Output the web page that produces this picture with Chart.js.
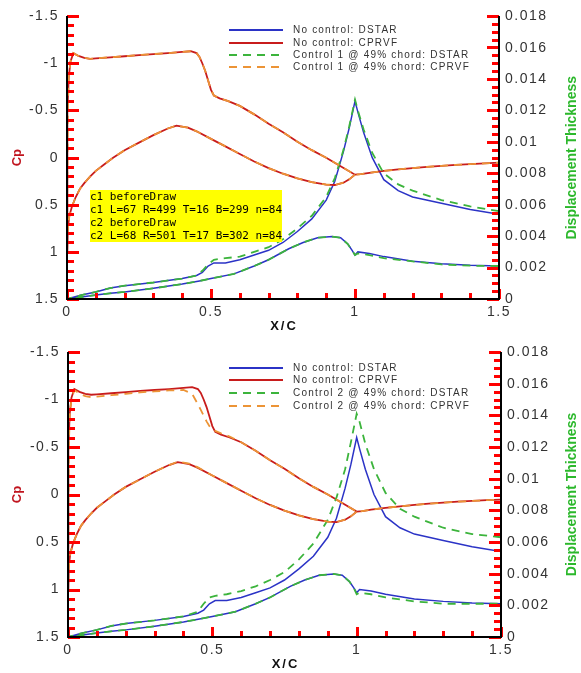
<!DOCTYPE html>
<html><head><meta charset="utf-8">
<script src="https://cdn.jsdelivr.net/npm/chart.js@4.4.1/dist/chart.umd.min.js"></script>
<style>
html,body{margin:0;padding:0;background:#fff;}
#wrap{position:relative;width:581px;height:673px;overflow:hidden;background:#fff;}
#wrap canvas{position:absolute;left:0;}
.lg{position:absolute;left:0;top:0;width:0;height:0;font-family:"Liberation Sans",Arial,sans-serif;font-size:10px;letter-spacing:1.2px;color:#333;}
.lg .row{position:absolute;left:0;height:12px;line-height:12px;white-space:nowrap;}
.lg svg{position:absolute;top:0;}
.lg span{position:absolute;}
#dbg{position:absolute;left:90px;top:190px;font:11px monospace;background:#ff0;white-space:pre;z-index:9}
</style></head>
<body>
<div id="wrap">
  <canvas id="c1" width="581" height="335" style="top:0"></canvas>
  <canvas id="c2" width="581" height="338" style="top:335px"></canvas>
  <div class="lg" id="lg1"></div>
  <div class="lg" id="lg2"></div>
  <div id="dbg"></div>
</div>
<script>
const LOG = [];
// ---------------- DATA ----------------
const xTickValues = [0, 0.5, 1, 1.5];
const xTickLabels = ['0', '0.5', '1', '1.5'];
const cpTickValues = [-1.5, -1, -0.5, 0, 0.5, 1, 1.5];
const cpTickLabels = ['-1.5', '-1', '-0.5', '0', '0.5', '1', '1.5'];
const dsTickValues = [0, 0.002, 0.004, 0.006, 0.008, 0.01, 0.012, 0.014, 0.016, 0.018];
const dsTickLabels = ['0', '0.002', '0.004', '0.006', '0.008', '0.01', '0.012', '0.014', '0.016', '0.018'];

const cpUpperX = [0, 0.001, 0.003, 0.006, 0.012, 0.022, 0.04, 0.06, 0.08, 0.1, 0.15, 0.2, 0.25, 0.3, 0.35, 0.4, 0.43, 0.45, 0.46, 0.47, 0.48, 0.49, 0.5, 0.51, 0.53, 0.56, 0.6, 0.65, 0.7, 0.75, 0.8, 0.85, 0.9, 0.95, 1.0];
const cpUpperNoCtrl = [1.0, 0.3, -0.5, -0.85, -1.02, -1.11, -1.08, -1.06, -1.05, -1.055, -1.066, -1.077, -1.09, -1.1, -1.11, -1.123, -1.13, -1.11, -1.07, -1.0, -0.92, -0.82, -0.72, -0.66, -0.63, -0.6, -0.55, -0.46, -0.36, -0.27, -0.17, -0.08, 0.0, 0.09, 0.18];
const cpUpperCtrl1 = [1.0, 0.3, -0.5, -0.85, -1.02, -1.11, -1.08, -1.06, -1.05, -1.055, -1.066, -1.077, -1.09, -1.1, -1.11, -1.123, -1.13, -1.11, -1.07, -1.0, -0.92, -0.82, -0.72, -0.66, -0.63, -0.6, -0.55, -0.46, -0.36, -0.27, -0.17, -0.08, 0.0, 0.09, 0.18];
const cpUpperCtrl2 = [1.0, 0.3, -0.5, -0.85, -1.0, -1.1, -1.06, -1.035, -1.025, -1.03, -1.045, -1.06, -1.075, -1.085, -1.095, -1.1, -1.06, -0.95, -0.89, -0.83, -0.77, -0.72, -0.69, -0.67, -0.645, -0.61, -0.55, -0.46, -0.36, -0.27, -0.17, -0.08, 0.0, 0.09, 0.18];

const cpLowerX = [0, 0.003, 0.008, 0.017, 0.03, 0.045, 0.06, 0.08, 0.1, 0.13, 0.16, 0.2, 0.25, 0.3, 0.35, 0.38, 0.42, 0.45, 0.5, 0.55, 0.6, 0.65, 0.7, 0.75, 0.8, 0.85, 0.9, 0.93, 0.96, 0.98, 1.0];
const cpLowerNoCtrl = [1.0, 0.75, 0.62, 0.52, 0.42, 0.33, 0.27, 0.2, 0.14, 0.07, 0.0, -0.08, -0.16, -0.24, -0.31, -0.34, -0.32, -0.28, -0.2, -0.12, -0.04, 0.04, 0.11, 0.17, 0.22, 0.26, 0.285, 0.29, 0.265, 0.23, 0.18];
const cpLowerCtrl1 = [1.0, 0.75, 0.62, 0.52, 0.42, 0.33, 0.27, 0.2, 0.14, 0.07, 0.0, -0.08, -0.16, -0.24, -0.31, -0.34, -0.32, -0.28, -0.2, -0.12, -0.04, 0.04, 0.11, 0.17, 0.22, 0.26, 0.285, 0.29, 0.265, 0.23, 0.18];
const cpLowerCtrl2 = [1.0, 0.75, 0.62, 0.52, 0.42, 0.33, 0.27, 0.2, 0.14, 0.07, 0.0, -0.08, -0.16, -0.24, -0.31, -0.345, -0.325, -0.285, -0.2, -0.12, -0.04, 0.04, 0.11, 0.17, 0.22, 0.26, 0.285, 0.29, 0.265, 0.23, 0.18];

const cpWakeX = [1.0, 1.02, 1.05, 1.1, 1.15, 1.2, 1.25, 1.3, 1.35, 1.4, 1.45, 1.5];
const cpWakeNoCtrl = [0.18, 0.175, 0.16, 0.14, 0.125, 0.11, 0.097, 0.086, 0.076, 0.068, 0.06, 0.053];
const cpWakeCtrl1 = [0.18, 0.175, 0.16, 0.14, 0.125, 0.11, 0.097, 0.086, 0.076, 0.068, 0.06, 0.053];
const cpWakeCtrl2 = [0.18, 0.175, 0.16, 0.14, 0.125, 0.11, 0.097, 0.086, 0.076, 0.068, 0.06, 0.053];

const dsUpperX = [0, 0.05, 0.1, 0.15, 0.2, 0.3, 0.4, 0.45, 0.47, 0.49, 0.51, 0.55, 0.6, 0.65, 0.7, 0.75, 0.8, 0.85, 0.9, 0.93, 0.96, 0.98, 1.0, 1.01, 1.03, 1.06, 1.1, 1.15, 1.2, 1.3, 1.4, 1.5];
const dsUpperNoCtrl = [0, 0.00025, 0.00045, 0.0007, 0.00085, 0.00105, 0.0013, 0.0015, 0.0017, 0.0021, 0.0023, 0.0023, 0.0025, 0.0028, 0.0031, 0.0036, 0.0043, 0.0051, 0.0063, 0.0075, 0.0094, 0.0109, 0.0126, 0.0119, 0.0106, 0.009, 0.0076, 0.0069, 0.0065, 0.0061, 0.0057, 0.0054];
const dsUpperCtrl1 = [0, 0.00025, 0.00045, 0.0007, 0.00085, 0.00105, 0.0013, 0.0015, 0.0018, 0.0022, 0.0025, 0.0026, 0.0027, 0.003, 0.0033, 0.0038, 0.0045, 0.0053, 0.0065, 0.0077, 0.0095, 0.011, 0.0127, 0.012, 0.0108, 0.0093, 0.008, 0.0073, 0.0069, 0.0063, 0.0059, 0.0056];
const dsUpperCtrl2 = [0, 0.00025, 0.00045, 0.0007, 0.00085, 0.00105, 0.0013, 0.0016, 0.0021, 0.0025, 0.0026, 0.0027, 0.0029, 0.0032, 0.0036, 0.0041, 0.0049, 0.0059, 0.0074, 0.0088, 0.0106, 0.0123, 0.0141, 0.0136, 0.0122, 0.0106, 0.0091, 0.0081, 0.0076, 0.0069, 0.0065, 0.0063];

const dsLowerX = [0, 0.05, 0.1, 0.15, 0.2, 0.3, 0.4, 0.46, 0.5, 0.58, 0.65, 0.7, 0.77, 0.82, 0.87, 0.92, 0.95, 0.975, 0.99, 1.0, 1.01, 1.05, 1.1, 1.2, 1.3, 1.4, 1.5];
const dsLowerNoCtrl = [0, 0.00012, 0.00025, 0.00036, 0.00045, 0.00068, 0.00095, 0.00115, 0.0013, 0.0016, 0.0021, 0.0025, 0.0032, 0.0036, 0.0039, 0.00398, 0.0039, 0.0035, 0.0031, 0.0028, 0.003, 0.0029, 0.0027, 0.0024, 0.00225, 0.00215, 0.0021];
const dsLowerCtrl1 = [0, 0.00012, 0.00025, 0.00036, 0.00045, 0.00068, 0.00095, 0.00115, 0.0013, 0.0016, 0.0021, 0.0025, 0.0032, 0.0036, 0.0039, 0.00398, 0.0039, 0.0035, 0.0031, 0.0028, 0.0029, 0.0028, 0.0026, 0.0024, 0.0022, 0.00212, 0.0021];
const dsLowerCtrl2 = [0, 0.00012, 0.00025, 0.00036, 0.00045, 0.00068, 0.00095, 0.00115, 0.0013, 0.0016, 0.0021, 0.0025, 0.0032, 0.0036, 0.0039, 0.00398, 0.0039, 0.0035, 0.0031, 0.0027, 0.0028, 0.0027, 0.0025, 0.00225, 0.0021, 0.0021, 0.0021];

const panel1Labels = ['No control: DSTAR', 'No control: CPRVF', 'Control 1 @ 49% chord: DSTAR', 'Control 1 @ 49% chord: CPRVF'];
const panel2Labels = ['No control: DSTAR', 'No control: CPRVF', 'Control 2 @ 49% chord: DSTAR', 'Control 2 @ 49% chord: CPRVF'];

// ---------------- BUILD ----------------
const BLUE = '#2b33c6', RED = '#c81c1c', GREEN = '#3cb43c', ORANGE = '#ec9436';
const FONT = '"Liberation Sans", Arial, sans-serif';

function pts(xs, ys) { return xs.map((x, i) => ({ x: x, y: ys[i] })); }
function cpPath(lowerY, upperY, wakeY) {
  return pts(cpLowerX, lowerY).reverse().concat(pts(cpUpperX, upperY).slice(1), pts(cpWakeX, wakeY).slice(1));
}
function dsPath(upperY, lowerY) {
  return pts(dsUpperX, upperY).reverse().concat(pts(dsLowerX, lowerY).slice(1));
}
function labelFor(v, vals, labs) {
  for (let i = 0; i < vals.length; i++) if (Math.abs(vals[i] - v) < 1e-9) return labs[i];
  return '';
}

function drawTicks(chart) {
  const ctx = chart.ctx;
  const ca = chart.chartArea;
  const L = Math.round(ca.left), R = Math.round(ca.right), B = Math.round(ca.bottom), Tp = Math.round(ca.top);
  const H = B - Tp, W = R - L;
  ctx.save();
  ctx.setLineDash([]);
  ctx.fillStyle = '#ff0000';
  let n = 0;
  for (let k = 0; k <= 30; k++) {
    const y = Math.round(Tp + H * k / 30);
    const len = (k % 5 === 0) ? 12 : 7;
    ctx.fillRect(L, y - 1, len, 3); n++;
  }
  for (let k = 0; k <= 36; k++) {
    const y = Math.round(B - H * k / 36);
    const len = (k % 4 === 0) ? 12 : 7;
    ctx.fillRect(R - len, y - 1, len, 3); n++;
  }
  for (let k = 0; k <= 15; k++) {
    const x = Math.round(L + W * k / 15);
    const len = (k % 5 === 0) ? 10 : 6;
    ctx.fillRect(x - 1, B - len, 3, len); n++;
  }
  ctx.fillStyle = '#000';
  ctx.fillRect(L - 1, Tp, 2, H + 1);
  ctx.fillRect(R - 1, Tp, 2, H + 1);
  ctx.fillRect(L - 1, B - 1, W + 2, 2);
  ctx.restore();
  LOG.push(chart.canvas.id + ' L=' + L + ' R=' + R + ' T=' + Tp + ' B=' + B + ' n=' + n);
}

const axesPlugin = {
  id: 'axesPlugin',
  beforeDraw(chart) { chart.ctx.letterSpacing = '1.5px'; LOG.push(chart.canvas.id + ' beforeDraw'); },
  afterDraw(chart) {
    const ctx = chart.ctx;
    try { drawTicks(chart); } catch (e) { LOG.push('ERR ' + e); }
    const ca = chart.chartArea;
    ctx.save();
    ctx.letterSpacing = '0px';
    const cy = (ca.top + ca.bottom) / 2;
    ctx.textAlign = 'center'; ctx.textBaseline = 'middle';
    ctx.save();
    ctx.translate(17, cy); ctx.rotate(-Math.PI / 2);
    ctx.fillStyle = '#c0141e'; ctx.font = 'bold 13px ' + FONT;
    ctx.fillText('Cp', 0, 0);
    ctx.restore();
    ctx.save();
    ctx.translate(572, cy); ctx.rotate(-Math.PI / 2);
    ctx.fillStyle = '#2cb82c'; ctx.font = 'bold 14px ' + FONT;
    ctx.fillText('Displacement Thickness', 0, 0);
    ctx.restore();
    ctx.letterSpacing = '2px';
    ctx.fillStyle = '#111'; ctx.font = 'bold 13px ' + FONT;
    ctx.fillText('X/C', (ca.left + ca.right) / 2 + 1, ca.bottom + 27);
    ctx.restore();
    document.getElementById('dbg').textContent = LOG.join('\n');
  }
};

function makePanel(id, geo, labels, series) {
  const tickFont = { family: FONT, size: 14 };
  const datasets = [
    { label: labels[0], data: series.dsNo, yAxisID: 'yR', borderColor: BLUE, borderWidth: 1.5, order: 3 },
    { label: labels[1], data: series.cpNo, yAxisID: 'yL', borderColor: RED, borderWidth: 1.8, order: 2 },
    { label: labels[2], data: series.dsC, yAxisID: 'yR', borderColor: GREEN, borderWidth: 1.8, borderDash: [8, 6], order: 1 },
    { label: labels[3], data: series.cpC, yAxisID: 'yL', borderColor: ORANGE, borderWidth: 1.8, borderDash: [8, 6], order: 0 }
  ];
  datasets.forEach(d => { d.pointRadius = 0; d.tension = 0; d.fill = false; });
  return new Chart(document.getElementById(id), {
    type: 'line',
    data: { datasets: datasets },
    plugins: [axesPlugin],
    options: {
      responsive: false, animation: false, events: [],
      layout: { padding: { top: geo.top, left: 0, right: 0, bottom: 0 } },
      plugins: { legend: { display: false }, tooltip: { enabled: false } },
      scales: {
        x: { type: 'linear', min: 0, max: 1.5,
          ticks: { stepSize: 0.5, autoSkip: false, maxRotation: 0, padding: 5, color: '#333', font: tickFont, callback: v => labelFor(v, xTickValues, xTickLabels) },
          grid: { display: false, drawTicks: false }, border: { display: false }, afterFit: s => { s.height = geo.xh; } },
        yL: { type: 'linear', position: 'left', reverse: true, min: -1.5, max: 1.5,
          ticks: { stepSize: 0.5, autoSkip: false, padding: 8, color: '#333', font: tickFont, callback: v => labelFor(v, cpTickValues, cpTickLabels) },
          grid: { display: false, drawTicks: false }, border: { display: false }, afterFit: s => { s.width = geo.lw; } },
        yR: { type: 'linear', position: 'right', min: 0, max: 0.018,
          ticks: { stepSize: 0.002, autoSkip: false, padding: 6, color: '#333', font: tickFont, callback: v => labelFor(v, dsTickValues, dsTickLabels) },
          grid: { display: false, drawTicks: false }, border: { display: false }, afterFit: s => { s.width = geo.rw; } }
      }
    }
  });
}

function makeLegend(divId, chart, rowTops) {
  const div = document.getElementById(divId);
  chart.data.datasets.forEach((d, i) => {
    const row = document.createElement('div');
    row.className = 'row';
    row.style.top = rowTops[i] + 'px';
    const dash = d.borderDash ? ' stroke-dasharray="8 6"' : '';
    row.innerHTML = '<svg width="54" height="12" style="left:229px"><line x1="0" y1="6" x2="54" y2="6" stroke="' +
      d.borderColor + '" stroke-width="2"' + dash + '/></svg><span style="left:293px;top:0">' + d.label + '</span>';
    div.appendChild(row);
  });
}

const chart1 = makePanel('c1', { top: 13, xh: 36, lw: 67, rw: 82 }, panel1Labels, {
  dsNo: dsPath(dsUpperNoCtrl, dsLowerNoCtrl), cpNo: cpPath(cpLowerNoCtrl, cpUpperNoCtrl, cpWakeNoCtrl),
  dsC: dsPath(dsUpperCtrl1, dsLowerCtrl1), cpC: cpPath(cpLowerCtrl1, cpUpperCtrl1, cpWakeCtrl1)
});
const chart2 = makePanel('c2', { top: 17, xh: 36, lw: 68, rw: 80 }, panel2Labels, {
  dsNo: dsPath(dsUpperNoCtrl, dsLowerNoCtrl), cpNo: cpPath(cpLowerNoCtrl, cpUpperNoCtrl, cpWakeNoCtrl),
  dsC: dsPath(dsUpperCtrl2, dsLowerCtrl2), cpC: cpPath(cpLowerCtrl2, cpUpperCtrl2, cpWakeCtrl2)
});
makeLegend('lg1', chart1, [24, 36.5, 48.5, 61]);
makeLegend('lg2', chart2, [361.5, 374, 386.5, 399.5]);
</script>
</body></html>
